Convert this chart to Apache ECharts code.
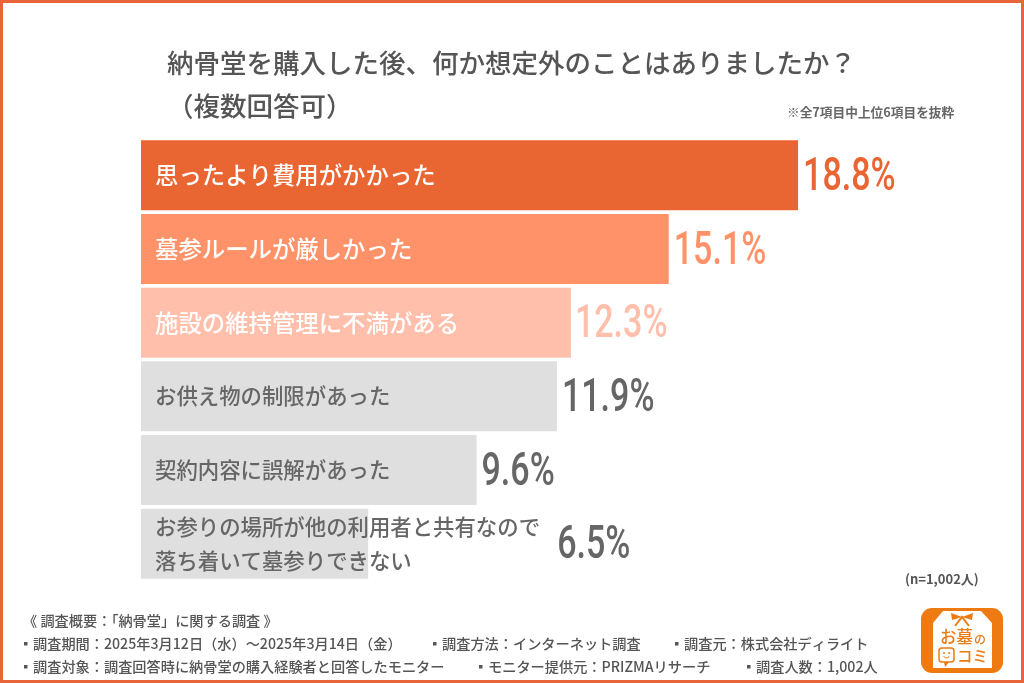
<!DOCTYPE html>
<html><head><meta charset="utf-8">
<style>html,body{margin:0;padding:0;background:#fff}#c{width:1024px;height:683px}</style>
<script src="https://cdn.jsdelivr.net/npm/echarts@6/dist/echarts.min.js"></script></head>
<body><div id="c"></div>
<script>
const categories = ['思ったより費用がかかった','墓参ルールが厳しかった','施設の維持管理に不満がある','お供え物の制限があった','契約内容に誤解があった','お参りの場所が他の利用者と共有なので\n落ち着いて墓参りできない'];
const values = [18.8,15.1,12.3,11.9,9.6,6.5];
const barColors = ['#E96532','#FF9268','#FFBFAB','#DFDFDF','#DFDFDF','#DFDFDF'];
const valueColors = ['#E96532','#FF9268','#FFBFAB','#666666','#666666','#666666'];
const titleLines = ['納骨堂を購入した後、何か想定外のことはありましたか？','（複数回答可）'];
const footer = [
 ['《 調査概要：「納骨堂」に関する調査 》',23,621,false],
 ['調査期間：2025年3月12日（水）～2025年3月14日（金）',33,644,true],
 ['調査方法：インターネット調査',442,644,true],
 ['調査元：株式会社ディライト',684,644,true],
 ['調査対象：調査回答時に納骨堂の購入経験者と回答したモニター',33,667,true],
 ['モニター提供元：PRIZMAリサーチ',488,667,true],
 ['調査人数：1,002人',756,667,true]
];
const JP = '"Noto Sans CJK JP","Noto Sans",sans-serif';
const labelStyle = ['a','a','a','d','d','d'];
const labelShift = [5,5,4,5,5,189];
const chart = echarts.init(document.getElementById('c'));
const txt = (x,y,text,size,color,weight,extra) => ({type:'text',x,y,silent:true,style:Object.assign({text,fontSize:size,fontFamily:JP,fontWeight:weight||500,fill:color,verticalAlign:'middle'},extra||{})});
const O = '#EE7A12';
chart.setOption({
 animation:false,
 grid:{left:141,top:138.5,width:699,height:442},
 xAxis:{type:'value',min:0,max:20,show:false},
 yAxis:{type:'category',inverse:true,data:categories,z:10,
  axisLine:{show:false},axisTick:{show:false},
  axisLabel:{inside:true,margin:14,align:'left',verticalAlign:'middle',
   formatter:(v,i)=>v.split('\n').map(s=>`{${labelStyle[i]}|${s}}`).join('\n'),
   rich:{
    a:{fontSize:23.4,fontWeight:500,fontFamily:JP,color:'#fff',lineHeight:34},
    d:{fontSize:21.4,fontWeight:500,fontFamily:JP,color:'#666',lineHeight:34}
   }}},
 series:[
  {type:'bar',barWidth:70,silent:true,z:2,
   data:values.map((v,i)=>({value:v,itemStyle:{color:barColors[i]}}))},
  {type:'custom',silent:true,z:6,clip:false,encode:{x:0,y:1},
   data:values.map((v,i)=>[v,i]),
   renderItem:(p,api)=>{
    const i=api.value(1), pt=api.coord([api.value(0),i]);
    return {type:'text',x:pt[0]+labelShift[i],y:pt[1]+3,scaleX:0.74,
     style:{text:api.value(0).toFixed(1)+'%',fontSize:46,fontWeight:500,fontFamily:'Roboto,sans-serif',
      fill:valueColors[i],verticalAlign:'middle',align:'left'}};
   }}
 ],
 graphic:[
  {type:'rect',shape:{x:1.5,y:1.5,width:1021,height:680},silent:true,style:{fill:'none',stroke:'#E8653A',lineWidth:3}},
  txt(167,63,titleLines[0],26.5,'#555'),
  txt(167,106,titleLines[1],26.5,'#555'),
  txt(787,112,'※全7項目中上位6項目を抜粋',12.7,'#666',700),
  txt(905,579,'(n=1,002人)',13,'#555',700),
  ...footer.map(f=>txt(f[1],f[2],f[0],14.2,'#555',500)),
  ...footer.filter(f=>f[3]).map(f=>({type:'rect',silent:true,shape:{x:f[1]-9,y:f[2]-2,width:3.5,height:3.5},style:{fill:'#555'}})),
  {type:'rect',shape:{x:921,y:608,width:82,height:65,r:11},silent:true,style:{fill:O}},
  {type:'polygon',shape:{points:[[943,611],[981,611],[992,623],[992,668],[933,668],[933,623]]},silent:true,style:{fill:'#fff'}},
  {type:'polygon',shape:{points:[[962,617],[951,613],[952,620]]},silent:true,style:{fill:O}},
  {type:'polygon',shape:{points:[[962,617],[973,613],[972,620]]},silent:true,style:{fill:O}},
  {type:'polyline',shape:{points:[[955,626],[962,617],[969,626]]},silent:true,style:{fill:'none',stroke:O,lineWidth:2}},
  txt(940,637,'お墓',16.5,O,500),
  txt(974,639,'の',12,O,500),
  {type:'rect',shape:{x:939,y:648,width:15,height:14,r:3},silent:true,style:{fill:'#fff',stroke:O,lineWidth:1.5}},
  {type:'polygon',shape:{points:[[944,662],[949,662],[945,667]]},silent:true,style:{fill:O}},
  {type:'circle',shape:{cx:944,cy:653,r:1},silent:true,style:{fill:O}},
  {type:'circle',shape:{cx:949,cy:653,r:1},silent:true,style:{fill:O}},
  {type:'arc',shape:{cx:946.5,cy:655,r:3,startAngle:0.3,endAngle:2.8},silent:true,style:{fill:'none',stroke:O,lineWidth:1}},
  txt(957,656,'コミ',15.5,O,500)
 ]
});
</script></body></html>
